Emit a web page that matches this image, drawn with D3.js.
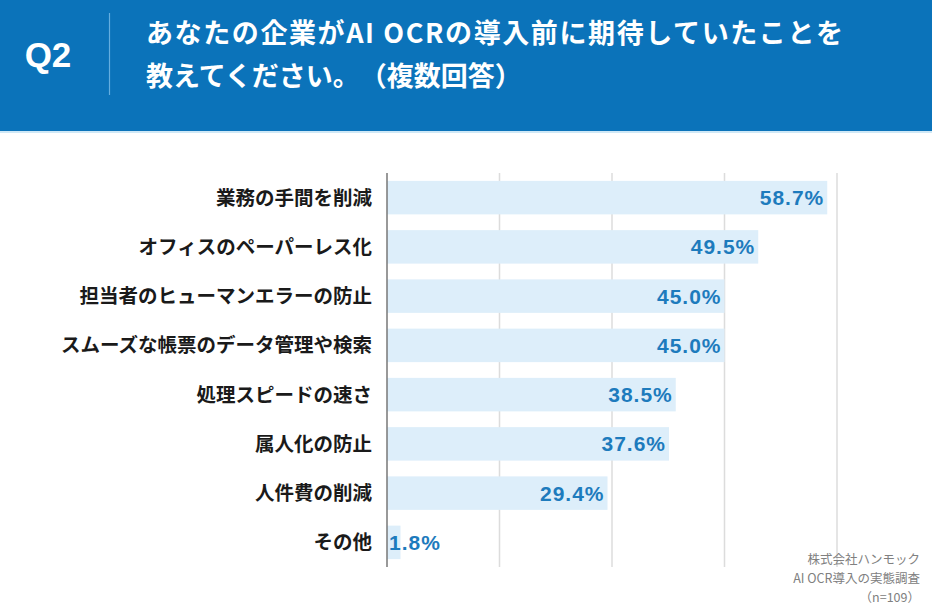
<!DOCTYPE html>
<html><head><meta charset="utf-8">
<script src="https://cdn.jsdelivr.net/npm/d3@7"></script>
<style>
html,body{margin:0;padding:0;background:#fff;}
svg{display:block;}
text{text-spacing-trim:space-all;}
</style></head>
<body>
<svg id="c" width="932" height="608"></svg>
<script>
const categories = ["業務の手間を削減","オフィスのペーパーレス化","担当者のヒューマンエラーの防止","スムーズな帳票のデータ管理や検索","処理スピードの速さ","属人化の防止","人件費の削減","その他"];
const values = [58.7,49.5,45.0,45.0,38.5,37.6,29.4,1.8];
const gridTicks = [0,15,30,45,60];
const titleLines = ["あなたの企業がAI OCRの導入前に期待していたことを","教えてください。（複数回答）"];
const qLabel = "Q2";
const sourceLines = ["株式会社ハンモック","AI OCR導入の実態調査","（n=109）"];

const svg = d3.select("#c");
const W = 932, H = 608;
const cjk = "'Noto Sans CJK JP','Noto Sans',sans-serif";
const lat = "'Liberation Sans',Arial,'Noto Sans CJK JP',sans-serif";

// header
svg.append("rect").attr("x",0).attr("y",0).attr("width",W).attr("height",131).attr("fill","#0b73ba");
svg.append("rect").attr("x",0).attr("y",131).attr("width",W).attr("height",2).attr("fill","#cfe8f6");
svg.append("text").attr("x",48).attr("y",67).attr("text-anchor","middle")
  .attr("font-family",lat).attr("font-weight","bold").attr("font-size",35).attr("fill","#fff").text(qLabel);
svg.append("line").attr("x1",109.5).attr("x2",109.5).attr("y1",13).attr("y2",95)
  .attr("stroke","#64aee0").attr("stroke-width",1.2);
svg.selectAll("text.title").data(titleLines).join("text").attr("class","title")
  .attr("x",146).attr("y",(d,i)=>43+i*43)
  .attr("letter-spacing",(d,i)=> i===0 ? 1.6 : 0)
  .attr("font-family",cjk).attr("font-weight","bold").attr("font-size",27).attr("fill","#fff").text(d=>d);

// chart
const m = {left:387, right:837, top:173, bottom:567};
const x = d3.scaleLinear().domain([0,60]).range([m.left,m.right]);
const y = d3.scaleBand().domain(categories).range([m.top,m.bottom]).paddingInner(0.32).paddingOuter(0.16);

svg.append("g").selectAll("line").data(gridTicks.slice(1)).join("line")
  .attr("x1",d=>x(d)).attr("x2",d=>x(d)).attr("y1",m.top).attr("y2",m.bottom)
  .attr("stroke","#dcdcdc").attr("stroke-width",1.5);

svg.append("g").selectAll("rect").data(values).join("rect")
  .attr("x",x(0)).attr("y",(d,i)=>y(categories[i])).attr("height",y.bandwidth())
  .attr("width",d=>x(d)-x(0)).attr("fill","#ddeefa");

svg.append("line").attr("x1",x(0)).attr("x2",x(0)).attr("y1",m.top).attr("y2",m.bottom)
  .attr("stroke","#777").attr("stroke-width",1.5);

svg.append("g").selectAll("text").data(categories).join("text")
  .attr("x",372).attr("y",d=>y(d)+y.bandwidth()/2).attr("dy","0.36em")
  .attr("text-anchor","end").attr("font-family",cjk).attr("font-weight","bold")
  .attr("font-size",19.5).attr("fill","#1a1a1a").text(d=>d);

svg.append("g").selectAll("text").data(values).join("text")
  .attr("x",d=> (x(d)-x(0) > 70) ? x(d)-3 : x(0)+2)
  .attr("text-anchor",d=> (x(d)-x(0) > 70) ? "end" : "start")
  .attr("y",(d,i)=>y(categories[i])+y.bandwidth()/2).attr("dy","0.36em")
  .attr("font-family",lat).attr("font-weight","bold").attr("font-size",21)
  .attr("letter-spacing",1).attr("fill","#1d7bbd").text(d=>d.toFixed(1)+"%");

svg.selectAll("text.src").data(sourceLines).join("text").attr("class","src")
  .attr("x",920).attr("y",(d,i)=>564+i*19).attr("text-anchor","end")
  .attr("font-family",cjk).attr("font-size",12.5).attr("fill","#808080").text(d=>d);
</script>
</body></html>
